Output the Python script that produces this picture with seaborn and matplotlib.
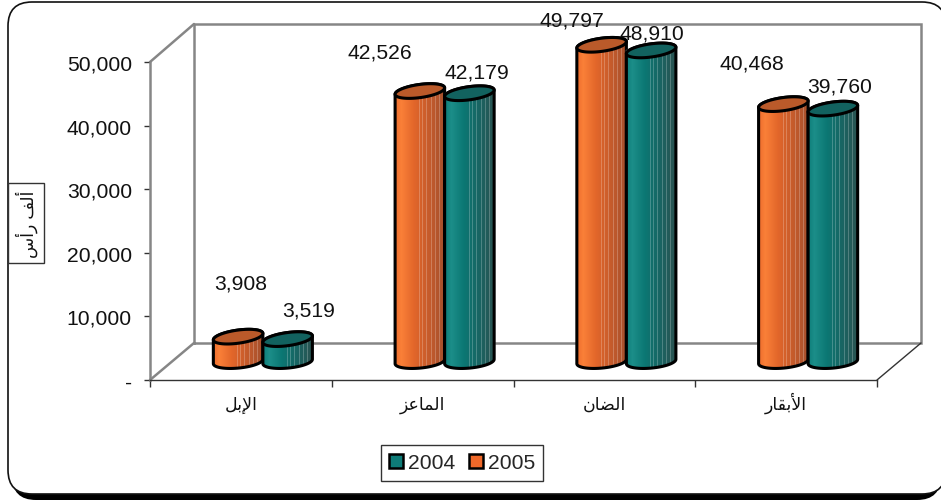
import numpy as np
import pandas as pd
import matplotlib
matplotlib.use("Agg")
import matplotlib.pyplot as plt
import seaborn as sns
from matplotlib.colors import to_rgb
from matplotlib.patches import FancyBboxPatch, Patch, Polygon, Rectangle
from matplotlib.transforms import Affine2D

# data
CATEGORIES = ["الإبل", "الماعز", "الضان", "الأبقار"]
VALUES_2005 = [3908, 42526, 49797, 40468]
VALUES_2004 = [3519, 42179, 48910, 39760]
Y_TICKS = [0, 10000, 20000, 30000, 40000, 50000]
Y_TICK_LABELS = ["-", "10,000", "20,000", "30,000", "40,000", "50,000"]
Y_LABEL = "ألف رأس"

# matplotlib does not join arabic letters, so use presentation forms in visual order
SHAPED = {
    "الإبل": "\ufede\ufe91\ufef9\ufe8d",
    "الماعز": "\ufeb0\ufecb\ufe8e\ufee4\ufedf\ufe8d",
    "الضان": "\ufee5\ufe8e\ufec0\ufedf\ufe8d",
    "الأبقار": "\ufead\ufe8e\ufed8\ufe91\ufef7\ufe8d",
    "ألف رأس": "\ufeb1\ufe83\ufead \ufed2\ufedf\ufe83",
}

# pixel offsets of the value labels from the top of each bar
OFFSETS_2005 = [(3, 54), (-40, 39), (-30, 25), (-31, 41)]
OFFSETS_2004 = [(21, 29), (7, 21), (1, 17), (7, 23)]

W, H = 941, 502
DEPTH_X, DEPTH_Y = 22, 18.5
GRAD_POS = [0, 0.12, 0.38, 0.7, 1]
ORANGE = ["#EE6E2E", "#FA8038", "#E2662A", "#C45B2C", "#A5502C"]
TEAL = ["#0E7E7A", "#1C8E89", "#0B7773", "#1A6462", "#2B5351"]
ORANGE_SOLID = "#F0692A"
TEAL_SOLID = "#0E7C78"
ORANGE_TOP = "#BA5A2A"
TEAL_TOP = "#12625F"
INK = "#111111"
GREY = "#868686"

sns.set_theme(style="white")
plt.rcParams["font.family"] = ["Liberation Sans", "DejaVu Sans"]

fig = plt.figure(figsize=(W / 100, H / 100), dpi=100)

# background layer in pixel coordinates: frame and 3d walls
px = fig.add_axes([0, 0, 1, 1], zorder=0)
px.set_xlim(0, W)
px.set_ylim(H, 0)
px.axis("off")

px.add_patch(FancyBboxPatch((12, 9), 929, 492, boxstyle="round,pad=0,rounding_size=24",
                            fc="black", ec="black", lw=0))
px.add_patch(FancyBboxPatch((8, 3), 938, 492, boxstyle="round,pad=0,rounding_size=24",
                            fc="white", ec=INK, lw=1.2))
px.plot([194, 194, 921, 921, 194], [344, 25, 25, 344, 344], color=GREY, lw=1.8, solid_joinstyle="miter")
px.plot([150, 194], [63, 25], color=GREY, lw=1.8)
px.plot([150, 194], [381, 344], color=GREY, lw=1.8)
px.plot([877, 921], [381, 344], color="#333333", lw=1)
px.add_patch(Rectangle((8, 184), 36.5, 80, fc="white", ec="#333333", lw=1))

# chart axes, placed on the front plane of the 3d box
ax = fig.add_axes([150 / W, 1 - 381 / H, 727 / W, 318 / H], zorder=1)
ax.patch.set_alpha(0)

df = pd.DataFrame({
    "cat": CATEGORIES * 2,
    "val": VALUES_2005 + VALUES_2004,
    "year": ["2005"] * 4 + ["2004"] * 4,
})
sns.barplot(data=df, x="cat", y="val", hue="year", hue_order=["2005", "2004"],
            width=0.545, gap=0, palette=[ORANGE_SOLID, TEAL_SOLID], legend=False, ax=ax)

ax.set_xlim(-0.5, 3.5)
ax.set_ylim(0, 50000)
fig.canvas.draw()

# bars stand in the middle of the floor, so shift them by half the depth
shift = ax.transData + Affine2D().translate(DEPTH_X, DEPTH_Y)
per_px_y = 50000 / 318


def ring(cx, cy, a, t, tilt=3.2):
    # tilted ellipse of the cylinder caps
    x = cx + a * np.cos(t)
    y = cy + per_px_y * (6.6 * np.sin(t) + tilt * np.cos(t))
    return np.column_stack([x, y])


def shade(stops):
    # left to right shading with the pale vertical stripes of the original
    pos = np.linspace(0, 1, 50)
    rgb = np.array([to_rgb(c) for c in stops])
    img = np.column_stack([np.interp(pos, GRAD_POS, rgb[:, i]) for i in range(3)])
    pale = [24, 27, 31, 36, 40, 44]
    img[pale] = img[pale] * 0.78 + 0.22
    return img[np.newaxis, :, :]


def cylinder(bar, stops, top_color, z):
    x0 = bar.get_x()
    a = bar.get_width() / 2
    cx = x0 + a
    h = bar.get_height()
    bar.set_transform(shift)
    bar.set_zorder(z)
    bar.set_clip_on(False)

    front = ring(cx, 0, a, np.linspace(np.pi, 2 * np.pi, 40), tilt=2.2)
    back = ring(cx, h, a, np.linspace(0, np.pi, 40))
    outline = np.vstack([front, back])
    im = ax.imshow(shade(stops), extent=(x0, x0 + 2 * a, -2000, h + 2000), aspect="auto",
                   interpolation="nearest", transform=shift, zorder=z + 0.1)
    # images fall back on the axes box if they have no clip box
    im.set_clip_box(fig.bbox)
    im.set_clip_path(Polygon(outline, closed=True, transform=shift))

    ax.add_patch(Polygon(outline, closed=True, fc="none", ec="black", lw=2.2, transform=shift,
                         zorder=z + 0.2, clip_on=False))
    ax.add_patch(Polygon(ring(cx, h, a, np.linspace(0, 2 * np.pi, 80)), closed=True, fc=top_color,
                         ec="black", lw=2.2, transform=shift, zorder=z + 0.3, clip_on=False))


for i, bar in enumerate(ax.containers[0]):
    cylinder(bar, ORANGE, ORANGE_TOP, 3 + i)
    ax.annotate(f"{VALUES_2005[i]:,}", xy=(bar.get_x() + bar.get_width() / 2, bar.get_height()),
                xycoords=shift, xytext=OFFSETS_2005[i], textcoords="offset pixels",
                ha="center", va="center", fontsize=15.2, color=INK, zorder=20)
for i, bar in enumerate(ax.containers[1]):
    cylinder(bar, TEAL, TEAL_TOP, 3.5 + i)
    ax.annotate(f"{VALUES_2004[i]:,}", xy=(bar.get_x() + bar.get_width() / 2, bar.get_height()),
                xycoords=shift, xytext=OFFSETS_2004[i], textcoords="offset pixels",
                ha="center", va="center", fontsize=15.2, color=INK, zorder=20)

# imshow resets the limits
ax.set_xlim(-0.5, 3.5)
ax.set_ylim(0, 50000)

# axes
for side in ["top", "right"]:
    ax.spines[side].set_visible(False)
ax.spines["left"].set_color(GREY)
ax.spines["left"].set_linewidth(1.8)
ax.spines["bottom"].set_color("#333333")
ax.spines["bottom"].set_linewidth(1)

ax.set_yticks(Y_TICKS)
ax.set_yticklabels(Y_TICK_LABELS, fontsize=15.2, color=INK)
ax.tick_params(axis="y", left=True, length=4, width=1, color="#333333", pad=9)

ax.set_xticks(range(4))
ax.set_xticklabels([SHAPED[c] for c in CATEGORIES], fontsize=12.5, color=INK, va="baseline")
ax.set_xticks(np.arange(-0.5, 4), minor=True)
ax.tick_params(axis="x", which="major", bottom=False, length=0, pad=21)
ax.tick_params(axis="x", which="minor", bottom=True, length=5, width=1, color="#333333")
ax.set_xlabel("")

ax.set_ylabel(SHAPED[Y_LABEL], fontsize=12.5, color=INK, rotation=90, ha="center", va="center")
ax.yaxis.set_label_coords(26.5, 224, transform=px.transData)

handles = [Patch(fc=TEAL_SOLID, ec="black", lw=1.8, label="2004"),
           Patch(fc=ORANGE_SOLID, ec="black", lw=1.8, label="2005")]
leg = ax.legend(handles=handles, ncol=2, loc="center", bbox_to_anchor=(462, 464),
                bbox_transform=px.transData, fontsize=15.2, frameon=True, fancybox=False,
                edgecolor="#333333", framealpha=1, handlelength=0.65, handleheight=0.6,
                handletextpad=0.25, columnspacing=0.65, borderpad=0.38, borderaxespad=0)
leg.get_frame().set_linewidth(1)
leg.set_zorder(30)

fig.savefig("out.png", dpi=100)
